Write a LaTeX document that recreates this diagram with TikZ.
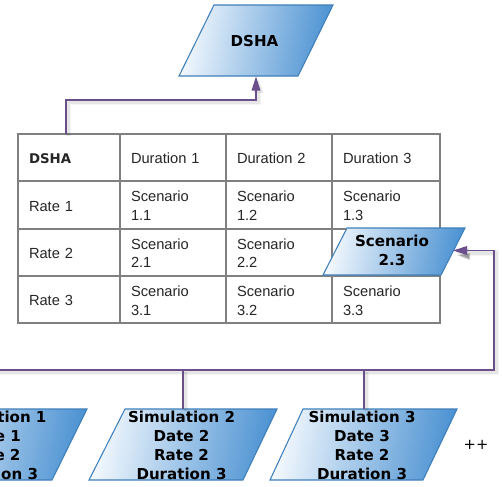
\documentclass[tikz,border=0pt]{standalone}
\usepackage{fontspec}
\setmainfont{Liberation Sans}
\newfontfamily\vfont{DejaVu Sans}
\usetikzlibrary{arrows.meta,calc}
\definecolor{conncol}{HTML}{6A4F8C}
\definecolor{gridcol}{HTML}{808080}
\definecolor{edgecol}{HTML}{3F7FBA}
\definecolor{lightfill}{HTML}{F4F9FE}
\definecolor{darkfill}{HTML}{4C92D2}
\tikzset{
  x=0.75pt,y=-0.75pt,
  cell/.style={draw=gridcol,line width=1.5pt,outer sep=0pt,anchor=north west,inner xsep=8.2pt,inner ysep=0pt,
    align=left,font=\fontsize{11pt}{14.2pt}\selectfont,text=black!85,minimum height=35.5pt,
    execute at begin node={\rule{0pt}{9.2pt}}},
  cella/.style={cell,text width=60.0pt,minimum width=76.5pt},
  cellb/.style={cell,text width=63.0pt,minimum width=79.5pt},
  cellc/.style={cell,text width=63.0pt,minimum width=79.5pt},
  celld/.style={cell,text width=64.5pt,minimum width=81pt},
  para/.style={draw=edgecol,line width=0.8pt,left color=lightfill,right color=darkfill,shading angle=80},
  label/.style={align=center,inner sep=0pt,outer sep=0pt,font=\vfont\bfseries\fontsize{11.3pt}{14.2pt}\selectfont,text=black},
  softshadow/.style={
    preaction={draw=black,opacity=.04,line width=4.5pt,transform canvas={shift={(1.8pt,-1.8pt)}}},
    preaction={draw=black,opacity=.06,line width=2.6pt,transform canvas={shift={(1.8pt,-1.8pt)}}}},
  conn/.style={draw=conncol,line width=0.8pt,softshadow},
  tip/.style={-{Triangle[length=10.5pt,width=6.5pt]}},
}
\begin{document}
\begin{tikzpicture}
\clip (0,0) rectangle (502,486);
\fill[white] (0,0) rectangle (502,486);
% table
\node[cella] (c00) at (18,134) {\vfont\bfseries\fontsize{10pt}{14pt}\selectfont DSHA};
\node[cellb] (c01) at (120,134) {Duration 1};
\node[cellc] (c02) at (226,134) {Duration 2};
\node[celld] (c03) at (332,134) {Duration 3};
\node[cella] (c10) at (18,181.33) {Rate 1};
\node[cellb] (c11) at (120,181.33) {Scenario\\1.1};
\node[cellc] (c12) at (226,181.33) {Scenario\\1.2};
\node[celld] (c13) at (332,181.33) {Scenario\\1.3};
\node[cella] (c20) at (18,228.67) {Rate 2};
\node[cellb] (c21) at (120,228.67) {Scenario\\2.1};
\node[cellc] (c22) at (226,228.67) {Scenario\\2.2};
\node[celld] (c23) at (332,228.67) {};
\node[cella] (c30) at (18,276) {Rate 3};
\node[cellb] (c31) at (120,276) {Scenario\\3.1};
\node[cellc] (c32) at (226,276) {Scenario\\3.2};
\node[celld] (c33) at (332,276) {Scenario\\3.3};
% parallelograms
\shade[para] (214,5) -- (333,5) -- (298,76) -- (179,76) -- cycle;
\shade[para] (347,228) -- (465,228) -- (441,275) -- (323,275) -- cycle;
\shade[para] (-66,409) -- (87,409) -- (52,480) -- (-101,480) -- cycle;
\shade[para] (125,409) -- (277,409) -- (243,480) -- (89,480) -- cycle;
\shade[para] (303,409) -- (457,409) -- (423,480) -- (270,480) -- cycle;
% labels
\node[label,minimum height=53.25pt] (dsha) at (254.5,41) {DSHA};
\node[label,minimum width=91.5pt,minimum height=35.25pt] (scen) at (392,250.5) {Scenario\\2.3};
\node[label] (sim1) at (-7,445) {Simulation 1\\Date 1\\Rate 2\\Duration 3};
\node[label] (sim2) at (181.5,445) {Simulation 2\\Date 2\\Rate 2\\Duration 3};
\node[label] (sim3) at (362,445) {Simulation 3\\Date 3\\Rate 2\\Duration 3};
\node[label,font=\vfont\fontsize{11pt}{14pt}\selectfont] (more) at (476,445) {++};
% arrowhead shadow beside Scenario 2.3
\fill[black,opacity=.18] (457,255) -- (470,253) -- (470,260) -- cycle;
\fill[black,opacity=.18] (459,255) -- (469,254) -- (469,259) -- cycle;
% connectors
\coordinate (elbow) at (256,100);
\coordinate (busR) at (494,370);
\coordinate (busL) at (-7,370);
\coordinate (drop2) at (183,409);
\coordinate (drop3) at (364,409);
\draw[conn,tip] ([xshift=-2.25pt]c00.north) |- (elbow) -- (elbow |- dsha.south);
\draw[conn,tip] (busL) -- (busR) |- (scen.east);
\draw[conn] (busL) -- (sim1.north -| busL);
\draw[conn] (drop2 |- busR) -- (drop2);
\draw[conn] (drop3 |- busR) -- (drop3);
\end{tikzpicture}
\end{document}
